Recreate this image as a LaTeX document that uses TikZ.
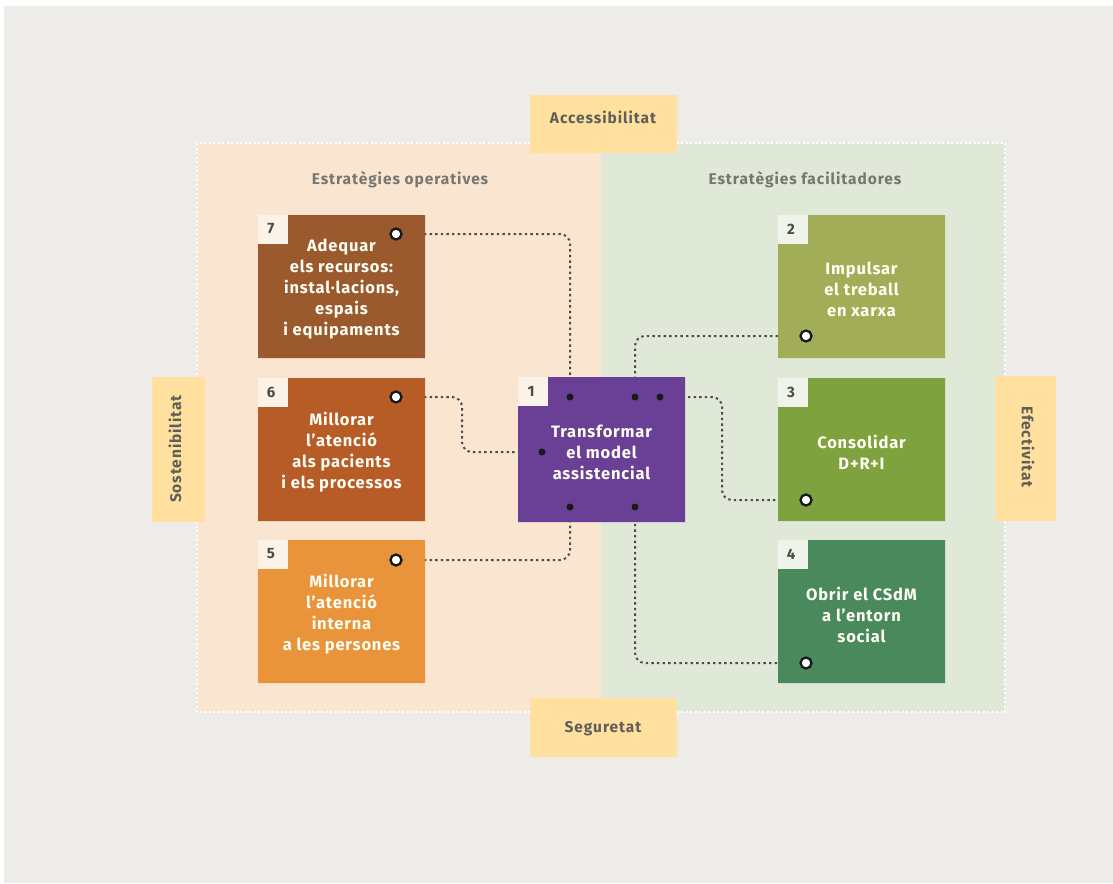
\documentclass[tikz,border=0pt]{standalone}
\usepackage{fontspec}
\setmainfont{Fira Sans}
\usetikzlibrary{calc}
\definecolor{bggray}{HTML}{EDECE9}
\definecolor{peach}{HTML}{FAE6D0}
\definecolor{sage}{HTML}{E0E8D7}
\definecolor{lab}{HTML}{FFE09E}
\definecolor{labtext}{HTML}{5F5E58}
\definecolor{cseven}{HTML}{9A5A2E}
\definecolor{csix}{HTML}{B75C27}
\definecolor{cfive}{HTML}{E9933A}
\definecolor{ctwo}{HTML}{A2AE57}
\definecolor{cthree}{HTML}{7EA23D}
\definecolor{cfour}{HTML}{4A895B}
\definecolor{cone}{HTML}{6A4096}
\definecolor{conncol}{HTML}{4A4B4D}
\definecolor{numcol}{HTML}{4A4A48}
\tikzset{
  boxtext/.style={align=center,text=white!96!yellow,inner sep=0pt,
    font=\fontsize{16.5}{21}\selectfont\bfseries\addfontfeatures{LetterSpace=5}},
  numtext/.style={text=numcol,inner sep=0pt,font=\fontsize{15}{15}\selectfont\bfseries},
  labeltext/.style={text=labtext,inner sep=0pt,font=\fontsize{15.5}{15.5}\selectfont\bfseries\addfontfeatures{LetterSpace=6}},
  headtext/.style={text=labtext!85,inner sep=0pt,font=\fontsize{15.5}{15.5}\selectfont\bfseries\addfontfeatures{LetterSpace=6}},
  conn/.style={draw=conncol,line width=2pt,dash pattern=on 2.4pt off 3.2pt,rounded corners=10pt},
  dot/.style={circle,fill=black!90,inner sep=0pt,minimum size=7pt},
  endc/.style={circle,draw=black!90,fill=white,line width=2.3pt,inner sep=0pt,minimum size=11pt},
}
\newcommand\nbox[9]{%
  \fill[#9] ({#2},{#3}) rectangle ({#2+30},{#3+29});
  \fill[#6] ({#2+30},{#3}) -- ({#4},{#3}) -- ({#4},{#5}) -- ({#2},{#5}) -- ({#2},{#3+29}) -- ({#2+30},{#3+29}) -- cycle;
  \node[boxtext] (#1) at ({(#2+#4)/2},{(#3+#5)/2+3}) {#8};
  \node[numtext] (#1n) at ({#2+13},{#3+14}) {#7};
}
\begin{document}
\begin{tikzpicture}[x=1pt,y=-1pt]
\useasboundingbox (0,0) rectangle (1113,883);
\fill[white] (0,0) rectangle (1113,883);
\fill[bggray] (4,6) rectangle (1113,883);
% panel
\fill[peach] (197,143) rectangle (601,712);
\fill[sage] (601,143) rectangle (1005,712);
\draw[white,line width=1.5pt,dash pattern=on 2pt off 2.5pt] (197,143) rectangle (1005,712);
% side labels
\fill[lab] (530,95) rectangle (677,153);
\node[labeltext] (acc) at (603,117) {Accessibilitat};
\fill[lab] (530,698) rectangle (677,757);
\node[labeltext] (seg) at (603,729) {Seguretat};
\fill[lab] (152,377) rectangle (205,522);
\node[labeltext,rotate=90] (sos) at (175,449) {Sostenibilitat};
\fill[lab] (995,376) rectangle (1056,521);
\node[labeltext,rotate=-90] (efe) at (1028,447) {Efectivitat};
% headings
\node[headtext] (hop) at (400,180) {Estratègies operatives};
\node[headtext] (hfa) at (805,180) {Estratègies facilitadores};
% connector anchor points
\path (570,397) coordinate (p1a) (635,397) coordinate (p1b) (660,397) coordinate (p1d)
      (542,452) coordinate (p1l) (570,507) coordinate (p1c) (635,507) coordinate (p1e)
      (396,234) coordinate (p7) (396,397) coordinate (p6) (396,560) coordinate (p5)
      (806,336) coordinate (p2) (806,500) coordinate (p3) (806,663) coordinate (p4);
% connectors
\draw[conn] (p7) -| (p1a);
\draw[conn] (p6) -- ++(66,0) |- (p1l);
\draw[conn] (p5) -| (p1c);
\draw[conn] (p2) -| (p1b);
\draw[conn] (p1d) -- ++(62,0) |- (p3);
\draw[conn] (p1e) |- (p4);
% boxes
\nbox{b7}{258}{215}{425}{358}{cseven}{7}{Adequar\\els recursos:\\instal·lacions,\\espais\\i equipaments}{peach!50!white}
\nbox{b6}{258}{378}{425}{521}{csix}{6}{Millorar\\l’atenció\\als pacients\\i els processos}{peach!50!white}
\nbox{b5}{258}{540}{425}{683}{cfive}{5}{Millorar\\l’atenció\\interna\\a les persones}{peach!50!white}
\nbox{b2}{778}{215}{945}{358}{ctwo}{2}{Impulsar\\el treball\\en xarxa}{sage!50!white}
\nbox{b3}{778}{378}{945}{521}{cthree}{3}{Consolidar\\D+R+I}{sage!50!white}
\nbox{b4}{778}{540}{945}{683}{cfour}{4}{Obrir el CSdM\\a l’entorn\\social}{sage!50!white}
\nbox{b1}{518}{377}{685}{522}{cone}{1}{Transformar\\el model\\assistencial}{peach!50!white}
% dots and end circles
\node[dot] (d1a) at (p1a) {};
\node[dot] (d1b) at (p1b) {};
\node[dot] (d1d) at (p1d) {};
\node[dot] (d1l) at (p1l) {};
\node[dot] (d1c) at (p1c) {};
\node[dot] (d1e) at (p1e) {};
\node[endc] (e7) at (p7) {};
\node[endc] (e6) at (p6) {};
\node[endc] (e5) at (p5) {};
\node[endc] (e2) at (p2) {};
\node[endc] (e3) at (p3) {};
\node[endc] (e4) at (p4) {};
\end{tikzpicture}
\end{document}
